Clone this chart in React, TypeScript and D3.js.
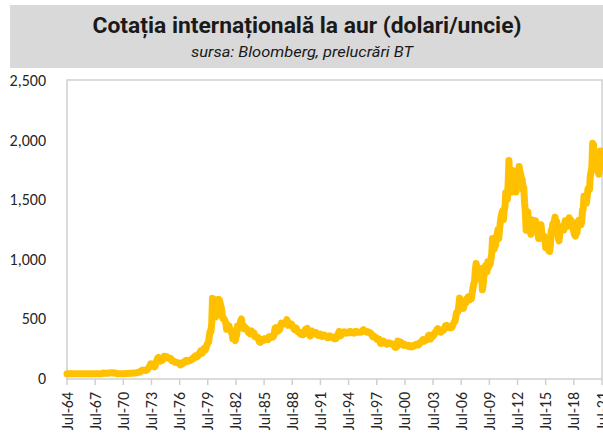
import React from "react";
import * as d3 from "d3";

// Monthly gold price (USD / troy ounce), starting Jul-1964
const startYear = 1964;
const startMonth = 6; // July (0-based)

const prices1960s = [
  35.1, 35.1, 35.1, 35.1, 35.1, 35.1,
  35.1, 35.1, 35.1, 35.1, 35.1, 35.1, 35.1, 35.1, 35.1, 35.1, 35.1, 35.1,
  35.2, 35.2, 35.2, 35.2, 35.2, 35.2, 35.2, 35.2, 35.2, 35.2, 35.2, 35.2,
  35.2, 35.2, 35.2, 35.2, 35.2, 35.2, 35.2, 35.2, 35.2, 35.2, 35.2, 35.2,
  35.2, 35.2, 37, 38, 41, 41, 39, 39, 39, 39, 40, 41,
  42, 43, 43, 43, 43, 41, 42, 41, 41, 40, 36, 35,
];
const prices1970s = [
  35, 35, 35, 36, 36, 36, 35, 36, 36, 37, 37, 37,
  38, 39, 39, 39, 40, 40, 41, 42, 42, 42, 43, 43,
  46, 48, 48, 49, 54, 62, 65, 67, 65, 65, 63, 63,
  65, 74, 84, 90, 102, 120, 120, 106, 103, 100, 94, 106,
  129, 150, 168, 172, 163, 154, 143, 155, 151, 158, 181, 183,
  176, 180, 178, 170, 167, 165, 166, 160, 144, 143, 142, 139,
  132, 131, 132, 128, 126, 126, 118, 110, 114, 117, 130, 134,
  132, 136, 148, 149, 147, 141, 143, 145, 149, 158, 162, 160,
  173, 178, 184, 175, 177, 183, 188, 206, 212, 227, 206, 208,
  227, 246, 242, 239, 257, 279, 295, 300, 355, 392, 392, 456,
];
const prices1980s = [
  668, 665, 554, 517, 513, 600, 644, 627, 660, 650, 623, 596,
  557, 500, 499, 495, 480, 461, 409, 410, 443, 437, 413, 410,
  384, 374, 330, 350, 334, 314, 339, 364, 436, 422, 417, 444,
  481, 495, 420, 432, 438, 413, 422, 416, 412, 394, 382, 388,
  370, 386, 394, 381, 377, 378, 348, 348, 341, 341, 341, 320,
  303, 299, 304, 325, 317, 317, 317, 330, 323, 326, 325, 322,
  345, 339, 346, 340, 342, 343, 348, 376, 418, 423, 398, 391,
  408, 401, 409, 438, 460, 450, 450, 461, 460, 465, 467, 490,
  477, 442, 443, 452, 451, 452, 437, 432, 413, 406, 420, 419,
  404, 388, 390, 384, 371, 367, 375, 365, 362, 367, 394, 409,
];
const prices1990s = [
  410, 416, 393, 374, 369, 352, 362, 394, 388, 380, 382, 378,
  383, 363, 363, 358, 357, 367, 368, 356, 349, 359, 360, 361,
  354, 354, 345, 338, 337, 341, 353, 343, 345, 344, 335, 335,
  329, 329, 330, 342, 367, 371, 392, 378, 355, 364, 373, 383,
  387, 382, 384, 377, 381, 385, 385, 380, 391, 389, 384, 379,
  379, 376, 382, 391, 385, 387, 386, 383, 383, 383, 386, 387,
  400, 405, 396, 393, 392, 385, 383, 387, 383, 381, 378, 369,
  355, 346, 352, 344, 344, 341, 324, 324, 323, 325, 306, 289,
  289, 297, 296, 308, 299, 292, 293, 284, 289, 296, 294, 291,
  287, 287, 286, 282, 277, 261, 256, 257, 265, 311, 293, 283,
];
const prices2000s = [
  284, 300, 286, 280, 275, 285, 282, 274, 273, 270, 266, 272,
  265, 262, 263, 261, 272, 270, 268, 273, 283, 283, 276, 276,
  282, 296, 294, 302, 314, 321, 313, 310, 319, 317, 319, 333,
  356, 359, 340, 328, 355, 356, 351, 360, 379, 379, 389, 407,
  414, 405, 406, 404, 384, 392, 398, 400, 406, 420, 439, 442,
  424, 423, 434, 429, 422, 431, 424, 438, 456, 470, 476, 510,
  549, 555, 557, 610, 670, 596, 633, 632, 599, 585, 627, 629,
  631, 665, 655, 680, 667, 655, 665, 665, 713, 754, 790, 810,
  900, 960, 930, 880, 888, 889, 920, 830, 870, 740, 780, 860,
  920, 943, 916, 890, 975, 930, 950, 955, 1000, 1040, 1170, 1100,
];
const prices2010s = [
  1080, 1115, 1113, 1170, 1210, 1245, 1170, 1245, 1305, 1355, 1385, 1405,
  1330, 1410, 1435, 1555, 1530, 1500, 1625, 1825, 1620, 1720, 1745, 1560,
  1740, 1710, 1665, 1650, 1560, 1600, 1610, 1690, 1775, 1720, 1715, 1660,
  1665, 1580, 1600, 1470, 1395, 1240, 1320, 1395, 1330, 1320, 1250, 1205,
  1245, 1325, 1285, 1295, 1245, 1320, 1285, 1285, 1215, 1170, 1170, 1200,
  1285, 1215, 1185, 1185, 1190, 1170, 1095, 1135, 1115, 1140, 1065, 1062,
  1115, 1235, 1235, 1290, 1215, 1320, 1350, 1310, 1315, 1275, 1175, 1150,
  1210, 1250, 1245, 1270, 1270, 1240, 1270, 1320, 1280, 1270, 1275, 1305,
  1345, 1320, 1325, 1315, 1300, 1250, 1225, 1200, 1190, 1215, 1220, 1280,
  1320, 1315, 1295, 1285, 1305, 1410, 1415, 1525, 1470, 1510, 1465, 1515,
];
const prices2020s = [
  1585, 1585, 1580, 1695, 1730, 1770, 1970, 1960, 1885, 1880, 1775, 1890,
  1850, 1730, 1710, 1770, 1905, 1770,
];

const yTickValues = [0, 500, 1000, 1500, 2000, 2500];
const xTickYears = [1964, 1967, 1970, 1973, 1976, 1979, 1982, 1985, 1988, 1991, 1994, 1997, 2000, 2003, 2006, 2009, 2012, 2015, 2018, 2021];

const titleText = "Cotația internațională la aur (dolari/uncie)";
const subtitleText = "sursa: Bloomberg, prelucrări BT";

const allPrices = [...prices1960s, ...prices1970s, ...prices1980s, ...prices1990s, ...prices2000s, ...prices2010s, ...prices2020s];
const series = allPrices.map((v, i) => ({ date: new Date(startYear, startMonth + i, 1), value: v }));

const W = 603;
const H = 438;
const plot = { left: 67, right: 602, top: 80, bottom: 379 };

export default function App() {
  const x = d3
    .scaleTime()
    .domain([new Date(1964, 6, 1), new Date(2021, 6, 1)])
    .range([plot.left, plot.right]);
  const y = d3.scaleLinear().domain([0, 2500]).range([plot.bottom - 1, plot.top]);
  const line = d3
    .line<{ date: Date; value: number }>()
    .x((d) => x(d.date))
    .y((d) => y(d.value))
    .curve(d3.curveLinear);
  const fmt = d3.format(",");
  const labelFont = "Carlito, Calibri, 'Liberation Sans', Arial, sans-serif";

  return (
    <svg width={W} height={H} style={{ position: "absolute", left: 0, top: 0 }} xmlns="http://www.w3.org/2000/svg">
      <rect x={0} y={0} width={W} height={H} fill="#ffffff" />
      <rect x={10} y={5} width={W - 10} height={63} fill="#d9d9d9" />
      <text
        x={307}
        y={33}
        textAnchor="middle"
        fontFamily="'Liberation Sans Narrow', 'Roboto', 'Liberation Sans', sans-serif"
        fontWeight="bold"
        fontSize={22}
        fill="#1a1a1a"
        textLength={429}
        lengthAdjust="spacingAndGlyphs"
      >
        {titleText}
      </text>
      <text
        x={302}
        y={57}
        textAnchor="middle"
        fontFamily="'Liberation Sans Narrow', 'Roboto', 'Liberation Sans', sans-serif"
        fontStyle="italic"
        fontSize={15}
        fill="#1a1a1a"
        textLength={222}
        lengthAdjust="spacingAndGlyphs"
      >
        {subtitleText}
      </text>

      {/* plot area frame */}
      <rect
        x={plot.left}
        y={plot.top}
        width={plot.right - plot.left}
        height={plot.bottom - plot.top}
        fill="none"
        stroke="#d0d0d0"
        strokeWidth={1.5}
      />

      {/* y axis labels */}
      {yTickValues.map((v) => (
        <text
          key={v}
          x={46}
          y={y(v) + 6}
          textAnchor="end"
          fontFamily={labelFont}
          fontSize={16}
          fill="#262626"
        >
          {fmt(v)}
        </text>
      ))}

      {/* x ticks and labels */}
      {xTickYears.map((yr) => {
        const xx = x(new Date(yr, 6, 1));
        return (
          <g key={yr}>
            <line x1={xx} x2={xx} y1={plot.bottom} y2={plot.bottom + 6} stroke="#d0d0d0" strokeWidth={1.5} />
            <text
              transform={`translate(${xx + 5.5},${plot.bottom + 13}) rotate(-90)`}
              textAnchor="end"
              fontFamily={labelFont}
              fontSize={16}
              fill="#262626"
            >
              {`Jul-${String(yr % 100).padStart(2, "0")}`}
            </text>
          </g>
        );
      })}

      <path
        d={line(series) || ""}
        fill="none"
        stroke="#FFC000"
        strokeWidth={7}
        strokeLinejoin="round"
        strokeLinecap="round"
      />
    </svg>
  );
}
